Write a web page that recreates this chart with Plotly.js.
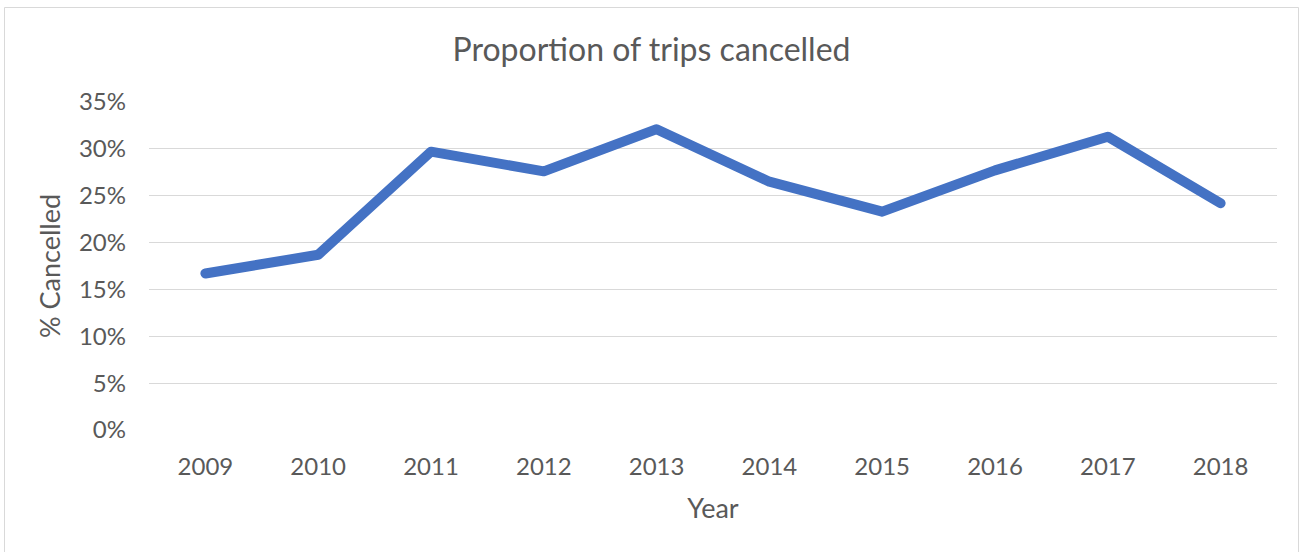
<!DOCTYPE html>
<html>
<head>
<meta charset="utf-8">
<script src="https://cdn.plot.ly/plotly-3.0.1.min.js"></script>
<style>
html, body { margin: 0; padding: 0; background: #ffffff; }
#chart { width: 1303px; height: 552px; }
.js-line { stroke-linecap: round !important; stroke-linejoin: round !important; }
</style>
</head>
<body>
<div id="chart"></div>
<script>
// Data
const years = ["2009", "2010", "2011", "2012", "2013", "2014", "2015", "2016", "2017", "2018"];
const pctCancelled = [0.167, 0.187, 0.297, 0.276, 0.321, 0.265, 0.233, 0.277, 0.313, 0.242];
const yTickVals = [0, 0.05, 0.10, 0.15, 0.20, 0.25, 0.30, 0.35];

const W = 1303, H = 552;
const margin = { l: 149, r: 26, t: 102, b: 122 };
const pw = W - margin.l - margin.r;
const ph = H - margin.t - margin.b;
const toPx = (px) => (px - margin.l) / pw;
const toPy = (py) => (H - margin.b - py) / ph;

const textColor = "#595959";
const fontFam = "Lato, 'Open Sans', sans-serif";

const trace = {
  x: years,
  y: pctCancelled,
  type: "scatter",
  mode: "lines",
  line: { color: "#4472C4", width: 10 },
  hoverinfo: "x+y"
};

const layout = {
  width: W,
  height: H,
  margin: margin,
  paper_bgcolor: "#ffffff",
  plot_bgcolor: "#ffffff",
  showlegend: false,
  title: {
    text: "Proportion of trips cancelled",
    font: { family: fontFam, size: 32, color: textColor },
    x: 0.5,
    xref: "container",
    xanchor: "center",
    y: 1 - 50 / H,
    yref: "container",
    yanchor: "middle"
  },
  xaxis: {
    type: "category",
    range: [-0.5, years.length - 0.5],
    showgrid: false,
    zeroline: false,
    showline: false,
    ticks: "",
    tickfont: { family: fontFam, size: 24, color: textColor },
    ticklabelstandoff: 20,
    title: {
      text: "Year",
      font: { family: fontFam, size: 27, color: textColor },
      standoff: 20
    }
  },
  yaxis: {
    range: [0, 0.35],
    tickvals: yTickVals,
    tickformat: ".0%",
    showgrid: true,
    gridcolor: "#d9d9d9",
    gridwidth: 1,
    zeroline: false,
    showline: false,
    ticks: "",
    ticklabelstandoff: 22,
    tickfont: { family: fontFam, size: 24, color: textColor },
    title: {
      text: "% Cancelled",
      font: { family: fontFam, size: 27, color: textColor },
      standoff: 10
    }
  },
  shapes: [
    {
      type: "rect", xref: "paper", yref: "paper",
      x0: toPx(4.5), x1: toPx(1298.5), y0: toPy(7.5), y1: toPy(H + 20),
      line: { color: "#d9d9d9", width: 1 }, fillcolor: "rgba(0,0,0,0)", layer: "below"
    }
  ]
};

Plotly.newPlot("chart", [trace], layout, { displayModeBar: false, staticPlot: true });
</script>
</body>
</html>
